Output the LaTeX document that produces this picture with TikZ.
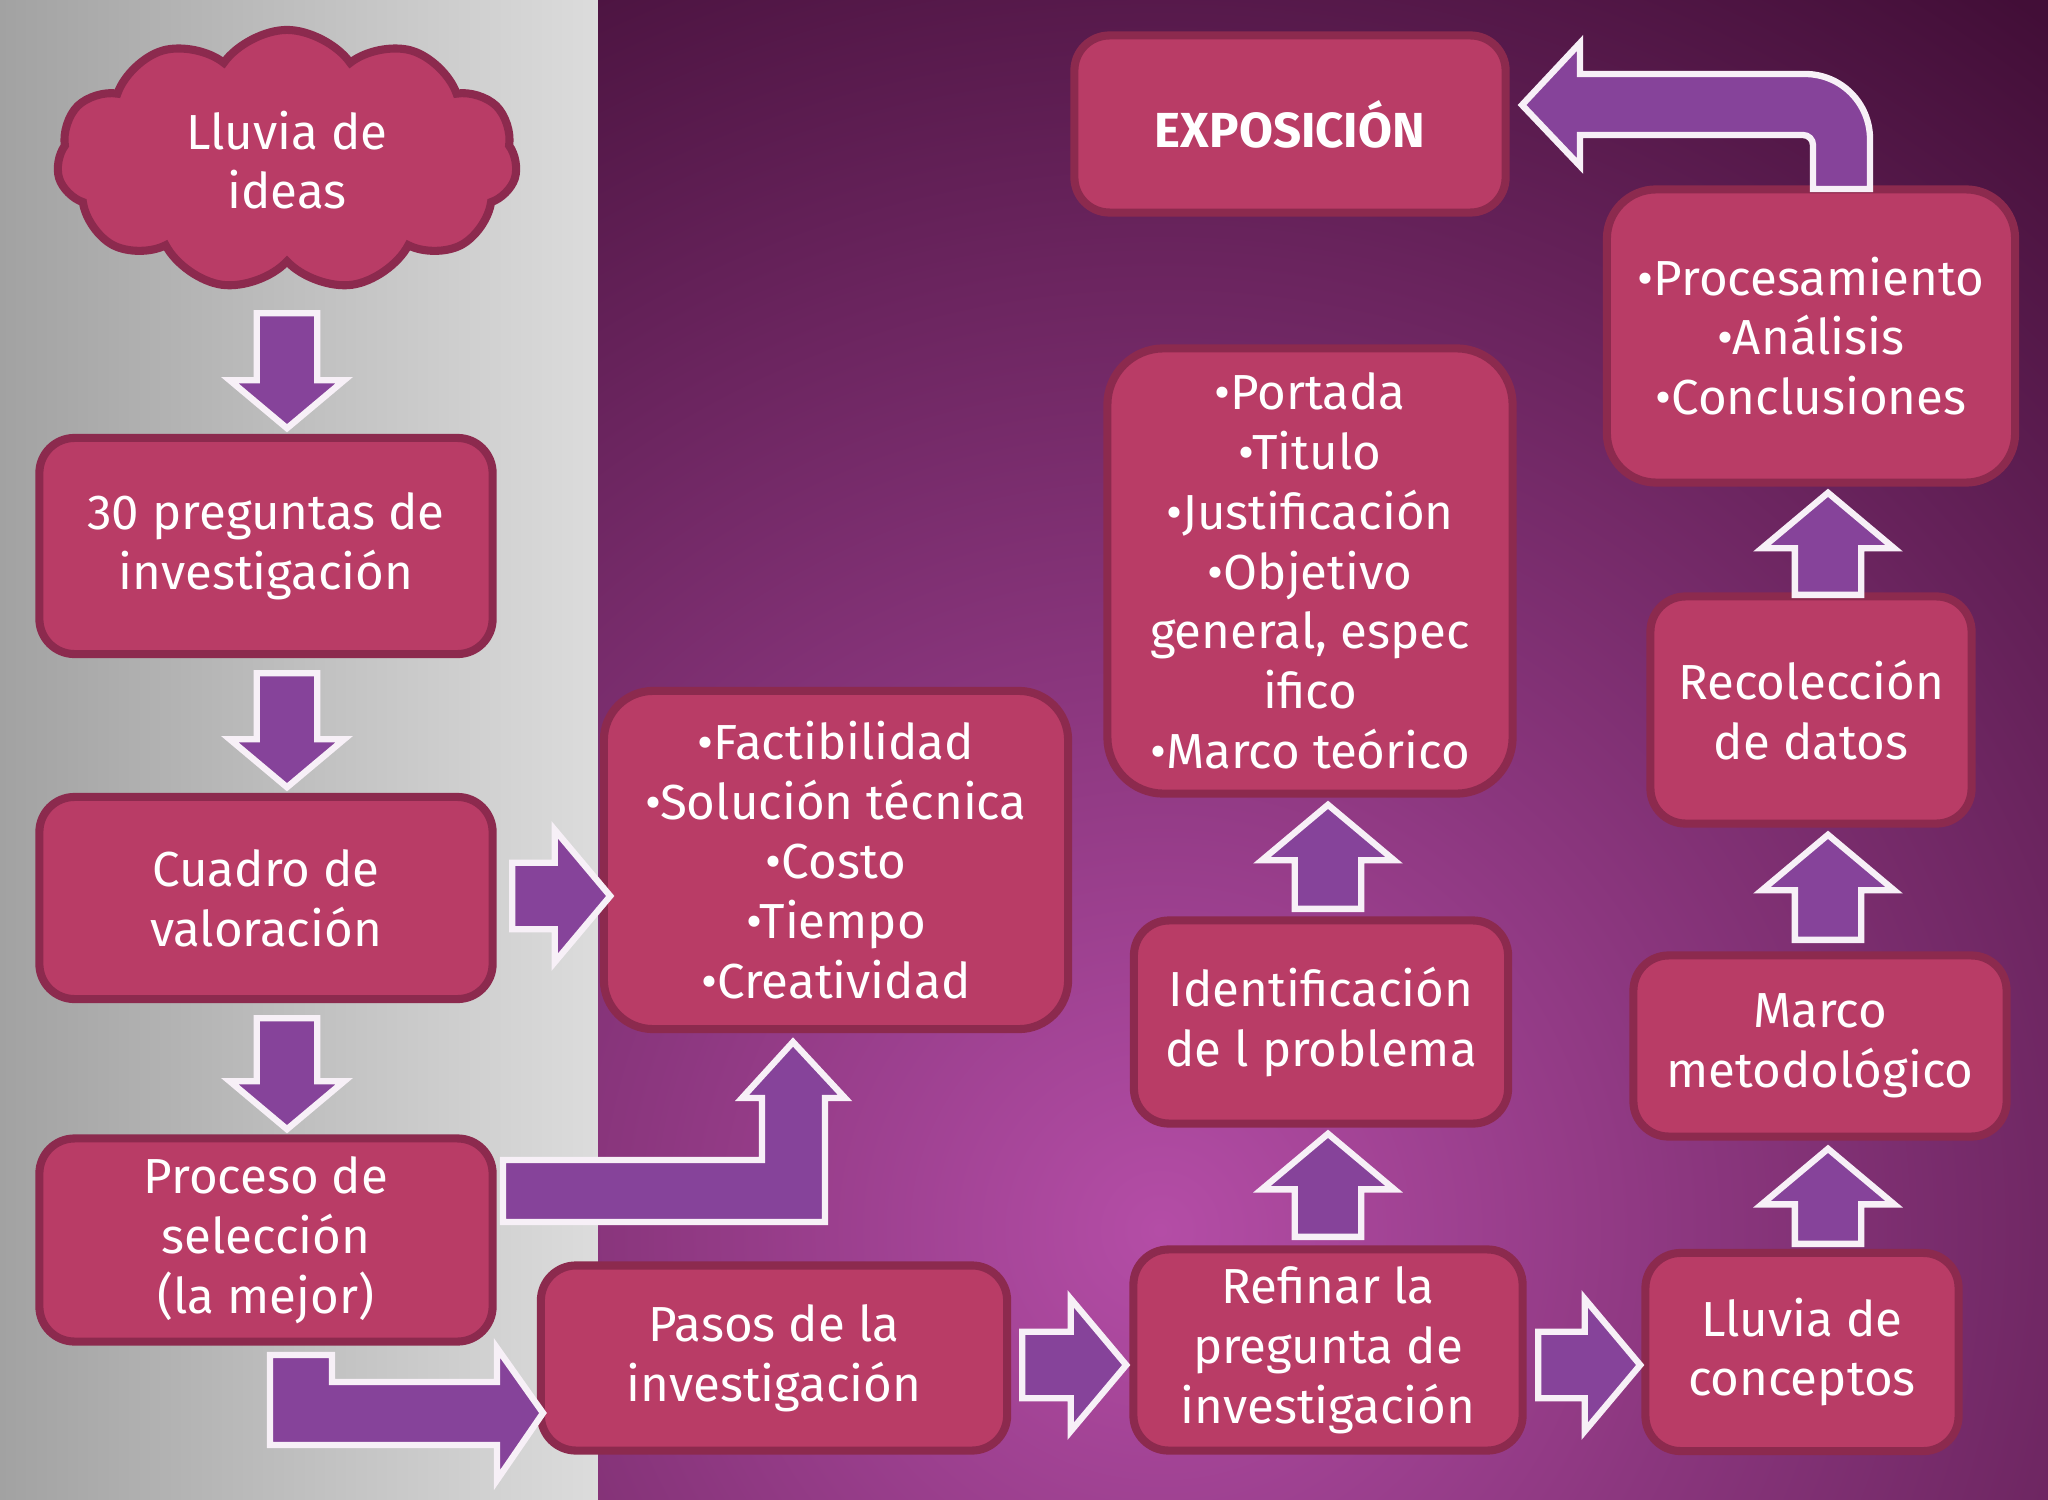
\documentclass[tikz,border=0pt]{standalone}
\usepackage{fontspec}
\setmainfont{Fira Sans}
\usetikzlibrary{shapes.symbols, shapes.arrows}

\definecolor{boxfill}{HTML}{B93C66}
\definecolor{boxline}{HTML}{8C2A4E}
\definecolor{arrfill}{HTML}{86439A}
\definecolor{arredge}{HTML}{F7F0F7}
\definecolor{bgdark}{HTML}{420E37}
\definecolor{bgglow}{HTML}{B44DA6}
\definecolor{greyL}{HTML}{A2A2A2}
\definecolor{greyR}{HTML}{DCDCDC}

\begin{document}
\begin{tikzpicture}[
    x=0.01cm, y=-0.01cm,
    card/.style={draw=boxline, fill=boxfill, line width=2.3pt, text=white, align=center,
                 font=\fontsize{14}{17}\selectfont, inner sep=2pt},
    box/.style={card, rounded corners=10pt},
    barr/.style={fill=arrfill, draw=arredge, line width=1.8pt},
    sarr/.style={barr, single arrow, single arrow tip angle=100, inner xsep=0pt,
                 inner ysep=0.3cm, single arrow head extend=0.33cm, minimum height=#1, anchor=tail},
    darr/.style={sarr=#1, inner ysep=0.27cm, single arrow head extend=0.27cm, rotate=-90},
    uarr/.style={sarr=#1, rotate=90}
]
    \useasboundingbox (0,0) rectangle (2048,1500);
    \shade[left color=greyL, right color=greyR] (0,0) rectangle (598,1500);
    \begin{scope}
        \clip (598,0) rectangle (2048,1500);
        \fill[bgdark] (598,0) rectangle (2048,1500);
        \shade[inner color=bgglow, outer color=bgdark] (1160,1230) circle (1500);
    \end{scope}

    \node[card, cloud, cloud puffs=11, cloud puff arc=110, aspect=1.75,
          minimum width=4.6cm, minimum height=2.6cm] (ideas) at (287,160) {Lluvia de\\ideas};
    \node[box, minimum width=4.53cm, minimum height=2.16cm] (preg)  at (266,546)  {30 preguntas de\\investigación};
    \node[box, minimum width=4.53cm, minimum height=2.02cm] (cuad)  at (266,898)  {Cuadro de\\valoración};
    \node[box, minimum width=4.53cm, minimum height=2.03cm] (proc)  at (266,1240) {Proceso de\\selección\\(la mejor)};
    \node[box, rounded corners=14pt, minimum width=4.64cm, minimum height=3.38cm] (fact) at (836,860)
        {•Factibilidad\\•Solución técnica\\•Costo\\•Tiempo\\•Creatividad};
    \node[box, minimum width=4.66cm, minimum height=1.85cm] (pasos) at (774,1358) {Pasos de la\\investigación};
    \node[box, minimum width=3.89cm, minimum height=2.01cm] (refin) at (1328,1350) {Refinar la\\pregunta de\\investigación};
    \node[box, minimum width=3.74cm, minimum height=2.03cm] (ident) at (1321,1022) {Identificación\\de l problema};
    \node[box, rounded corners=16pt, minimum width=4.05cm, minimum height=4.45cm] (port) at (1310,571)
        {•Portada\\•Titulo\\•Justificación\\•Objetivo\\general, espec\\ifico\\•Marco teórico};
    \node[box, minimum width=4.31cm, minimum height=1.77cm] (expo)  at (1290,124) {\textbf{EXPOSICIÓN}};
    \node[box, minimum width=3.13cm, minimum height=1.98cm] (lconc) at (1802,1352) {Lluvia de\\conceptos};
    \node[box, minimum width=3.73cm, minimum height=1.81cm] (marco) at (1820,1046) {Marco\\metodológico};
    \node[box, minimum width=3.21cm, minimum height=2.27cm] (recol) at (1811,710)  {Recolección\\de datos};
    \node[box, rounded corners=14pt, minimum width=4.08cm, minimum height=2.93cm] (procs) at (1811,336)
        {•Procesamiento\\•Análisis\\•Conclusiones};

    \node[darr=1.15cm] (a1) at (287,310)  {};
    \node[darr=1.14cm] (a2) at (287,670)  {};
    \node[darr=1.11cm] (a3) at (287,1015) {};
    \node[sarr=0.98cm] (r1) at (509,896)   {};
    \node[sarr=1.04cm] (r2) at (1019,1365) {};
    \node[sarr=1.02cm] (r3) at (1535,1365) {};
    \node[uarr=1.03cm] (u1) at (1328,1240) {};
    \node[uarr=1.04cm] (u2) at (1328,912)  {};
    \node[uarr=0.95cm] (u3) at (1828,1247) {};
    \node[uarr=1.05cm] (u4) at (1828,943)  {};
    \node[uarr=1.02cm] (u5) at (1828,598)  {};

    \draw[barr] (503,1160) -- (762,1160) -- (762,1098) -- (742,1098) -- (793,1042)
        -- (845,1098) -- (825,1098) -- (825,1222) -- (503,1222) -- cycle;
    \draw[barr] (270,1355) -- (332,1355) -- (332,1382) -- (497,1382) -- (497,1348)
        -- (543,1413) -- (497,1480) -- (497,1445) -- (270,1445) -- cycle;
    \draw[barr] (1813,189) -- (1813,145) .. controls (1813,139.5) and (1808.5,135) .. (1803,135)
        -- (1580,135) -- (1580,166) -- (1522,105) -- (1580,43) -- (1580,74) -- (1805,74)
        .. controls (1841,74) and (1870,103) .. (1870,139) -- (1870,189) -- cycle;
\end{tikzpicture}
\end{document}
